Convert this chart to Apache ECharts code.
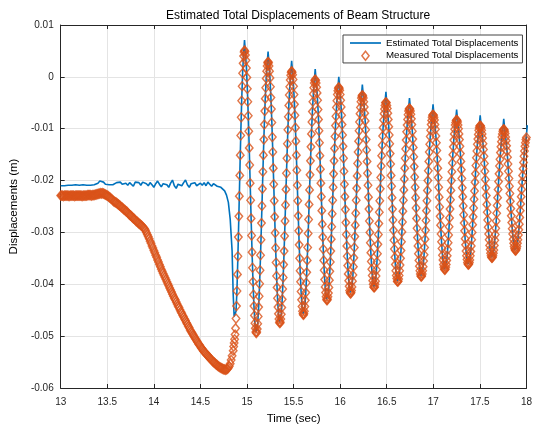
<!DOCTYPE html>
<html><head><meta charset="utf-8">
<script src="https://cdn.jsdelivr.net/npm/echarts@6/dist/echarts.min.js"></script>
<style>html,body{margin:0;padding:0;background:#fff}#c{width:535px;height:430px}</style>
</head><body><div id="c"></div>
<script>
const FONT = 'Liberation Sans, Arial, Helvetica, sans-serif';
const titleText = 'Estimated Total Displacements of Beam Structure';
const seriesNames = ['Estimated Total Displacements', 'Measured Total Displacements'];
const xAxisTitle = 'Time (sec)';
const yAxisTitle = 'Displacements (m)';

// measured, slow segment, every 0.01 s from 13.00 s
const measuredSlowStart = 13.0, measuredSlowStep = 0.01;
const measuredSlow = [
-0.0229,-0.0229,-0.0229,-0.0230,-0.0229,-0.0229,-0.0229,-0.0229,-0.0229,-0.0230,
-0.0229,-0.0229,-0.0229,-0.0229,-0.0229,-0.0230,-0.0229,-0.0229,-0.0229,-0.0229,
-0.0229,-0.0229,-0.0229,-0.0230,-0.0229,-0.0229,-0.0229,-0.0229,-0.0229,-0.0228,
-0.0228,-0.0228,-0.0228,-0.0229,-0.0228,-0.0228,-0.0228,-0.0227,-0.0227,-0.0226,
-0.0226,-0.0225,-0.0225,-0.0224,-0.0225,-0.0224,-0.0225,-0.0226,-0.0227,-0.0228,
-0.0229,-0.0230,-0.0232,-0.0233,-0.0235,-0.0236,-0.0238,-0.0240,-0.0241,-0.0242,
-0.0243,-0.0245,-0.0246,-0.0248,-0.0249,-0.0251,-0.0252,-0.0254,-0.0256,-0.0257,
-0.0259,-0.0260,-0.0262,-0.0264,-0.0266,-0.0267,-0.0269,-0.0271,-0.0273,-0.0274,
-0.0276,-0.0278,-0.0279,-0.0281,-0.0283,-0.0284,-0.0286,-0.0287,-0.0289,-0.0291,
-0.0293,-0.0296,-0.0300,-0.0304,-0.0308,-0.0312,-0.0317,-0.0321,-0.0326,-0.0330,
-0.0335,-0.0339,-0.0344,-0.0348,-0.0353,-0.0357,-0.0362,-0.0366,-0.0371,-0.0375,
-0.0379,-0.0383,-0.0387,-0.0391,-0.0395,-0.0399,-0.0403,-0.0407,-0.0411,-0.0415,
-0.0419,-0.0423,-0.0427,-0.0430,-0.0434,-0.0438,-0.0442,-0.0445,-0.0449,-0.0453,
-0.0456,-0.0460,-0.0463,-0.0467,-0.0470,-0.0474,-0.0477,-0.0481,-0.0484,-0.0488,
-0.0491,-0.0494,-0.0497,-0.0500,-0.0503,-0.0506,-0.0509,-0.0512,-0.0515,-0.0517,
-0.0520,-0.0523,-0.0525,-0.0528,-0.0530,-0.0532,-0.0534,-0.0536,-0.0538,-0.0540,
-0.0542,-0.0544,-0.0546,-0.0548,-0.0550,-0.0551,-0.0553,-0.0555,-0.0556,-0.0558,
-0.0559,-0.0560,-0.0561,-0.0562,-0.0563,-0.0564,-0.0564,-0.0565,-0.0564,-0.0563,
-0.0561,-0.0558,-0.0553,-0.0546,-0.0538
];
// estimated, slow segment, every 0.02 s from 13.00 s
const estimatedSlowStart = 13.0, estimatedSlowStep = 0.02;
const estimatedSlow = [
-0.0210,-0.0209,-0.0210,-0.0209,-0.0209,-0.0210,-0.0209,-0.0209,-0.0208,-0.0209,
-0.0209,-0.0208,-0.0208,-0.0209,-0.0209,-0.0208,-0.0209,-0.0208,-0.0208,-0.0207,
-0.0205,-0.0201,-0.0200,-0.0203,-0.0207,-0.0208,-0.0208,-0.0207,-0.0208,-0.0207,
-0.0204,-0.0206,-0.0203,-0.0207,-0.0208,-0.0205,-0.0209,-0.0204,-0.0207,-0.0211,
-0.0203,-0.0200,-0.0204,-0.0209,-0.0203,-0.0201,-0.0206,-0.0210,-0.0204,-0.0208,
-0.0213,-0.0206,-0.0201,-0.0207,-0.0212,-0.0206,-0.0203,-0.0208,-0.0213,-0.0205,
-0.0199,-0.0210,-0.0215,-0.0207,-0.0204,-0.0210,-0.0204,-0.0199,-0.0208,-0.0213,
-0.0206,-0.0208,-0.0204,-0.0210,-0.0212,-0.0205,-0.0209,-0.0204,-0.0210,-0.0203,
-0.0207,-0.0211,-0.0206,-0.0209,-0.0211,-0.0210,-0.0213,-0.0216,-0.0220,-0.0228,
-0.0242,-0.0275,-0.0335
];

// oscillating segment from 14.852 s
const oscStart = 14.852;
const measuredStep = 0.00506;
const measuredOsc = [
-0.0528,-0.0520,-0.0513,-0.0506,-0.0497,-0.0485,-0.0466,-0.0442,-0.0413,-0.0381,-0.0346,-0.0309,-0.0269,-0.0230,-0.0190,-0.0151,-0.0113,-0.0078,-0.0046,-0.0018,0.0007,0.0026,0.0040,0.0048,
0.0051,0.0049,0.0042,0.0032,0.0017,-0.0001,-0.0023,-0.0048,-0.0075,-0.0105,-0.0137,-0.0170,-0.0205,-0.0238,-0.0273,-0.0306,-0.0338,-0.0368,-0.0395,-0.0420,-0.0442,-0.0460,-0.0475,-0.0485,-0.0492,-0.0494,-0.0492,-0.0486,-0.0476,-0.0462,-0.0444,-0.0423,-0.0399,-0.0373,-0.0344,-0.0314,-0.0282,-0.0249,-0.0216,-0.0183,-0.0151,-0.0121,-0.0092,-0.0066,-0.0042,-0.0021,-0.0003,0.0011,0.0021,0.0027,
0.0029,0.0027,0.0021,0.0011,-0.0002,-0.0019,-0.0040,-0.0062,-0.0088,-0.0116,-0.0145,-0.0176,-0.0207,-0.0239,-0.0270,-0.0301,-0.0330,-0.0358,-0.0384,-0.0406,-0.0427,-0.0444,-0.0457,-0.0467,-0.0473,-0.0475,-0.0473,-0.0467,-0.0458,-0.0445,-0.0429,-0.0409,-0.0387,-0.0362,-0.0336,-0.0307,-0.0278,-0.0247,-0.0217,-0.0186,-0.0157,-0.0129,-0.0102,-0.0077,-0.0055,-0.0035,-0.0019,-0.0006,0.0003,0.0009,
0.0011,0.0009,0.0004,-0.0005,-0.0018,-0.0034,-0.0053,-0.0074,-0.0098,-0.0124,-0.0151,-0.0180,-0.0209,-0.0239,-0.0268,-0.0297,-0.0324,-0.0350,-0.0374,-0.0395,-0.0414,-0.0430,-0.0443,-0.0452,-0.0457,-0.0459,-0.0457,-0.0452,-0.0443,-0.0431,-0.0416,-0.0397,-0.0377,-0.0354,-0.0329,-0.0302,-0.0275,-0.0246,-0.0218,-0.0189,-0.0162,-0.0135,-0.0110,-0.0087,-0.0067,-0.0048,-0.0033,-0.0021,-0.0012,-0.0007,
-0.0005,-0.0007,-0.0012,-0.0020,-0.0031,-0.0045,-0.0063,-0.0082,-0.0104,-0.0127,-0.0152,-0.0178,-0.0205,-0.0231,-0.0258,-0.0284,-0.0309,-0.0332,-0.0354,-0.0373,-0.0391,-0.0405,-0.0416,-0.0424,-0.0429,-0.0431,-0.0429,-0.0424,-0.0417,-0.0406,-0.0392,-0.0375,-0.0357,-0.0336,-0.0313,-0.0289,-0.0264,-0.0238,-0.0213,-0.0187,-0.0162,-0.0138,-0.0115,-0.0094,-0.0076,-0.0059,-0.0046,-0.0034,-0.0027,-0.0022,
-0.0020,-0.0022,-0.0026,-0.0034,-0.0045,-0.0058,-0.0074,-0.0092,-0.0112,-0.0134,-0.0157,-0.0182,-0.0207,-0.0231,-0.0256,-0.0281,-0.0304,-0.0326,-0.0346,-0.0364,-0.0380,-0.0393,-0.0404,-0.0412,-0.0416,-0.0418,-0.0416,-0.0412,-0.0405,-0.0394,-0.0382,-0.0366,-0.0349,-0.0329,-0.0308,-0.0286,-0.0263,-0.0238,-0.0215,-0.0191,-0.0167,-0.0145,-0.0124,-0.0104,-0.0087,-0.0071,-0.0059,-0.0048,-0.0041,-0.0037,
-0.0035,-0.0037,-0.0041,-0.0048,-0.0058,-0.0070,-0.0085,-0.0102,-0.0121,-0.0141,-0.0163,-0.0186,-0.0209,-0.0232,-0.0255,-0.0278,-0.0300,-0.0320,-0.0339,-0.0356,-0.0371,-0.0383,-0.0393,-0.0400,-0.0405,-0.0406,-0.0405,-0.0400,-0.0394,-0.0384,-0.0372,-0.0357,-0.0341,-0.0323,-0.0304,-0.0283,-0.0261,-0.0239,-0.0216,-0.0194,-0.0172,-0.0152,-0.0132,-0.0114,-0.0098,-0.0083,-0.0071,-0.0062,-0.0055,-0.0050,
-0.0049,-0.0050,-0.0055,-0.0061,-0.0070,-0.0082,-0.0096,-0.0112,-0.0129,-0.0148,-0.0168,-0.0190,-0.0211,-0.0233,-0.0255,-0.0276,-0.0296,-0.0315,-0.0332,-0.0348,-0.0362,-0.0374,-0.0383,-0.0389,-0.0394,-0.0395,-0.0394,-0.0390,-0.0383,-0.0374,-0.0363,-0.0350,-0.0335,-0.0318,-0.0299,-0.0280,-0.0259,-0.0238,-0.0218,-0.0197,-0.0176,-0.0157,-0.0139,-0.0122,-0.0106,-0.0093,-0.0082,-0.0073,-0.0066,-0.0062,
-0.0061,-0.0062,-0.0066,-0.0072,-0.0081,-0.0092,-0.0105,-0.0120,-0.0136,-0.0154,-0.0173,-0.0193,-0.0213,-0.0233,-0.0253,-0.0273,-0.0292,-0.0310,-0.0326,-0.0341,-0.0354,-0.0365,-0.0374,-0.0380,-0.0384,-0.0385,-0.0384,-0.0380,-0.0374,-0.0366,-0.0355,-0.0343,-0.0329,-0.0313,-0.0296,-0.0277,-0.0258,-0.0239,-0.0219,-0.0200,-0.0181,-0.0163,-0.0145,-0.0130,-0.0115,-0.0103,-0.0092,-0.0084,-0.0078,-0.0074,
-0.0073,-0.0074,-0.0078,-0.0083,-0.0092,-0.0101,-0.0114,-0.0127,-0.0142,-0.0159,-0.0176,-0.0194,-0.0213,-0.0232,-0.0251,-0.0269,-0.0286,-0.0303,-0.0318,-0.0331,-0.0344,-0.0353,-0.0362,-0.0367,-0.0371,-0.0372,-0.0371,-0.0367,-0.0362,-0.0354,-0.0345,-0.0333,-0.0320,-0.0305,-0.0289,-0.0272,-0.0255,-0.0237,-0.0219,-0.0200,-0.0183,-0.0166,-0.0150,-0.0135,-0.0122,-0.0110,-0.0101,-0.0093,-0.0088,-0.0084,
-0.0083,-0.0084,-0.0087,-0.0093,-0.0100,-0.0110,-0.0121,-0.0134,-0.0148,-0.0163,-0.0179,-0.0196,-0.0214,-0.0231,-0.0249,-0.0266,-0.0282,-0.0297,-0.0312,-0.0324,-0.0336,-0.0345,-0.0352,-0.0358,-0.0361,-0.0362,-0.0361,-0.0358,-0.0353,-0.0345,-0.0337,-0.0326,-0.0314,-0.0300,-0.0285,-0.0270,-0.0253,-0.0236,-0.0220,-0.0203,-0.0187,-0.0171,-0.0156,-0.0143,-0.0130,-0.0120,-0.0111,-0.0103,-0.0098,-0.0095,
-0.0094,-0.0095,-0.0098,-0.0103,-0.0110,-0.0118,-0.0129,-0.0140,-0.0153,-0.0167,-0.0182,-0.0198,-0.0214,-0.0229,-0.0246,-0.0261,-0.0276,-0.0290,-0.0303,-0.0314,-0.0325,-0.0333,-0.0340,-0.0345,-0.0348,-0.0349,-0.0348,-0.0345,-0.0340,-0.0334,-0.0325,-0.0315,-0.0304,-0.0292,-0.0278,-0.0263,-0.0248,-0.0233,-0.0217,-0.0202,-0.0187,-0.0172,-0.0159,-0.0146,-0.0135,-0.0125,-0.0116,-0.0110,-0.0105,-0.0102,
-0.0101,-0.0102,-0.0105,-0.0109,-0.0116,-0.0123,-0.0133,-0.0143,-0.0155,-0.0168,-0.0182,-0.0196,-0.0211,-0.0225,-0.0240,-0.0254,-0.0268,-0.0281,-0.0293,-0.0303,-0.0313,-0.0321,-0.0327,-0.0331,-0.0334,-0.0335,-0.0334,-0.0331,-0.0327,-0.0321,-0.0314,-0.0305,-0.0295,-0.0284,-0.0271,-0.0258,-0.0245,-0.0231,-0.0217,-0.0203,-0.0190,-0.0177,-0.0165,-0.0153,-0.0143,-0.0134,-0.0127,-0.0121,-0.0117
];
const estimatedStep = 0.01012;
const estimatedOsc = [
-0.0420,-0.0462,-0.0463,-0.0452,-0.0410,-0.0345,-0.0268,-0.0189,-0.0112,-0.0045,0.0008,0.0044,
0.0071,0.0046,0.0017,-0.0023,-0.0075,-0.0137,-0.0205,-0.0273,-0.0338,-0.0395,-0.0442,-0.0475,-0.0492,-0.0492,-0.0476,-0.0444,-0.0399,-0.0344,-0.0282,-0.0216,-0.0151,-0.0092,-0.0042,-0.0003,0.0025,
0.0049,0.0025,-0.0002,-0.0040,-0.0088,-0.0145,-0.0207,-0.0270,-0.0330,-0.0384,-0.0427,-0.0457,-0.0473,-0.0473,-0.0458,-0.0429,-0.0387,-0.0336,-0.0278,-0.0217,-0.0157,-0.0102,-0.0055,-0.0019,0.0007,
0.0031,0.0008,-0.0018,-0.0053,-0.0098,-0.0151,-0.0209,-0.0268,-0.0324,-0.0374,-0.0414,-0.0443,-0.0457,-0.0457,-0.0443,-0.0416,-0.0377,-0.0329,-0.0275,-0.0218,-0.0162,-0.0110,-0.0067,-0.0033,-0.0008,
0.0015,-0.0008,-0.0031,-0.0063,-0.0104,-0.0152,-0.0205,-0.0258,-0.0309,-0.0354,-0.0391,-0.0416,-0.0429,-0.0429,-0.0417,-0.0392,-0.0357,-0.0313,-0.0264,-0.0213,-0.0162,-0.0115,-0.0076,-0.0046,-0.0023,
0.0000,-0.0022,-0.0045,-0.0074,-0.0112,-0.0157,-0.0207,-0.0256,-0.0304,-0.0346,-0.0380,-0.0404,-0.0416,-0.0416,-0.0405,-0.0382,-0.0349,-0.0308,-0.0263,-0.0215,-0.0167,-0.0124,-0.0087,-0.0059,-0.0037,
-0.0015,-0.0037,-0.0058,-0.0085,-0.0121,-0.0163,-0.0209,-0.0255,-0.0300,-0.0339,-0.0371,-0.0393,-0.0405,-0.0405,-0.0394,-0.0372,-0.0341,-0.0304,-0.0261,-0.0216,-0.0172,-0.0132,-0.0098,-0.0071,-0.0051,
-0.0029,-0.0051,-0.0070,-0.0096,-0.0129,-0.0168,-0.0211,-0.0255,-0.0296,-0.0332,-0.0362,-0.0383,-0.0394,-0.0394,-0.0383,-0.0363,-0.0335,-0.0299,-0.0259,-0.0218,-0.0176,-0.0139,-0.0106,-0.0082,-0.0062,
-0.0041,-0.0062,-0.0081,-0.0105,-0.0136,-0.0173,-0.0213,-0.0253,-0.0292,-0.0326,-0.0354,-0.0374,-0.0384,-0.0384,-0.0374,-0.0355,-0.0329,-0.0296,-0.0258,-0.0219,-0.0181,-0.0145,-0.0115,-0.0092,-0.0074,
-0.0053,-0.0074,-0.0092,-0.0114,-0.0142,-0.0176,-0.0213,-0.0251,-0.0286,-0.0318,-0.0344,-0.0362,-0.0371,-0.0371,-0.0362,-0.0345,-0.0320,-0.0289,-0.0255,-0.0219,-0.0183,-0.0150,-0.0122,-0.0101,-0.0084,
-0.0063,-0.0083,-0.0100,-0.0121,-0.0148,-0.0179,-0.0214,-0.0249,-0.0282,-0.0312,-0.0336,-0.0352,-0.0361,-0.0361,-0.0353,-0.0337,-0.0314,-0.0285,-0.0253,-0.0220,-0.0187,-0.0156,-0.0130,-0.0111,-0.0094,
-0.0074,-0.0094,-0.0110,-0.0129,-0.0153,-0.0182,-0.0214,-0.0246,-0.0276,-0.0303,-0.0325,-0.0340,-0.0348,-0.0348,-0.0340,-0.0325,-0.0304,-0.0278,-0.0248,-0.0217,-0.0187,-0.0159,-0.0135,-0.0116,-0.0101,
-0.0081,-0.0101,-0.0116,-0.0133,-0.0155,-0.0182,-0.0211,-0.0240,-0.0268,-0.0293,-0.0313,-0.0327,-0.0334,-0.0334,-0.0327,-0.0314,-0.0295,-0.0271,-0.0245,-0.0217,-0.0190,-0.0165,-0.0143,-0.0127,-0.0113,
-0.0093
];

// axis ranges / ticks
const xMin = 13, xMax = 18, xInterval = 0.5;
const yMin = -0.06, yMax = 0.01, yInterval = 0.01;

function toPairs(start, step, vals) { return vals.map((v, i) => [+(start + i * step).toFixed(5), v]); }
const measuredData = toPairs(measuredSlowStart, measuredSlowStep, measuredSlow).concat(toPairs(oscStart, measuredStep, measuredOsc));
const estimatedData = toPairs(estimatedSlowStart, estimatedSlowStep, estimatedSlow).concat(toPairs(oscStart, estimatedStep, estimatedOsc));

const AX = '#262626';
const BLUE = '#0072BD', ORANGE = '#D95319';
const tickStyle = { inside: true, length: 4, lineStyle: { color: AX } };
const lineStyleAx = { show: true, onZero: false, lineStyle: { color: AX, width: 1 } };
const split = { show: true, lineStyle: { color: '#e4e4e4', width: 1 } };
const markerStyle = { color: 'rgba(255,255,255,0)', borderColor: ORANGE, borderWidth: 1.45 };

const chart = echarts.init(document.getElementById('c'), null, { renderer: 'canvas' });
chart.setOption({
  animation: false,
  backgroundColor: '#fff',
  textStyle: { fontFamily: FONT },
  title: {
    text: titleText, left: 293, textAlign: 'center', top: 5,
    textStyle: { fontSize: 12, fontWeight: 'normal', color: '#000', fontFamily: FONT }
  },
  grid: { left: 54, right: 3, top: 25, bottom: 35 },
  legend: {
    orient: 'vertical', left: 343, top: 35, padding: [3, 4, 2, 7],
    itemWidth: 31, itemHeight: 9, itemGap: 2.5, symbolKeepAspect: true,
    backgroundColor: '#fff', borderColor: '#444', borderWidth: 1, borderRadius: 0,
    selectedMode: false,
    textStyle: { fontSize: 9.7, color: '#000', fontFamily: FONT },
    data: [
      { name: seriesNames[0], icon: 'path://M0 0H31V1.7H0Z', itemStyle: { color: BLUE, borderWidth: 0 } },
      { name: seriesNames[1], icon: 'path://M4 0L8 5L4 10L0 5Z', itemStyle: markerStyle }
    ]
  },
  xAxis: [
    { type: 'value', min: xMin, max: xMax, interval: xInterval, position: 'bottom',
      name: xAxisTitle, nameLocation: 'middle', nameGap: 25,
      nameTextStyle: { fontSize: 11.5, color: '#000', fontFamily: FONT },
      axisLine: lineStyleAx, axisTick: tickStyle,
      axisLabel: { fontSize: 10, color: AX, margin: 9, fontFamily: FONT },
      splitLine: split },
    { type: 'value', min: xMin, max: xMax, interval: xInterval, position: 'top',
      axisLine: lineStyleAx, axisTick: tickStyle, axisLabel: { show: false }, splitLine: { show: false } }
  ],
  yAxis: [
    { type: 'value', min: yMin, max: yMax, interval: yInterval, position: 'left',
      name: yAxisTitle, nameLocation: 'middle', nameGap: 31, nameRotate: 90,
      nameTextStyle: { fontSize: 11.5, color: '#000', fontFamily: FONT },
      axisLine: lineStyleAx, axisTick: tickStyle,
      axisLabel: { fontSize: 10, color: AX, margin: 7, fontFamily: FONT },
      splitLine: split },
    { type: 'value', min: yMin, max: yMax, interval: yInterval, position: 'right',
      axisLine: lineStyleAx, axisTick: tickStyle, axisLabel: { show: false }, splitLine: { show: false } }
  ],
  series: [
    { name: seriesNames[0], type: 'line', data: estimatedData, symbol: 'none', showSymbol: false,
      lineStyle: { color: BLUE, width: 1.6 }, itemStyle: { color: BLUE },
      clip: true, z: 2, emphasis: { disabled: true }, silent: true },
    { name: seriesNames[1], type: 'scatter', data: measuredData, symbol: 'diamond', symbolSize: [7.5, 9],
      itemStyle: markerStyle,
      clip: true, z: 3, emphasis: { disabled: true }, silent: true }
  ]
});
</script>
</body></html>
